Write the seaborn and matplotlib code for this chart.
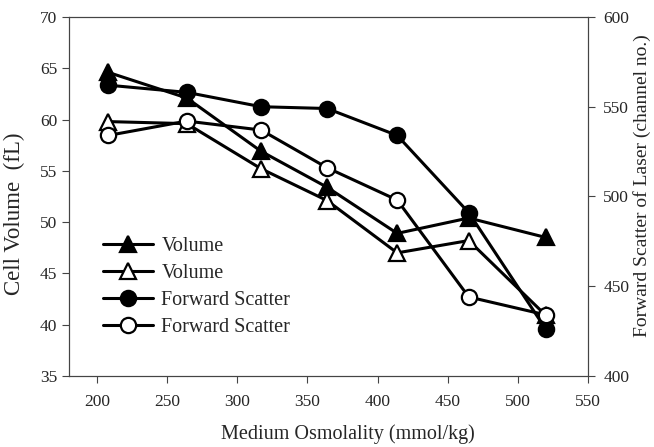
import matplotlib
matplotlib.use("Agg")
import matplotlib.pyplot as plt
import seaborn as sns
import pandas as pd

# data
osmolality = [208, 264, 317, 364, 414, 465, 520]
volume_filled = [64.6, 62.1, 56.9, 53.4, 48.9, 50.4, 48.5]
volume_open = [59.8, 59.6, 55.2, 52.1, 47.0, 48.2, 40.9]
scatter_filled = [562, 558, 550, 549, 534, 491, 426]
scatter_open = [534, 542, 537, 516, 498, 444, 434]

df = pd.DataFrame({'osm': osmolality, 'vf': volume_filled, 'vo': volume_open,
                   'sf': scatter_filled, 'so': scatter_open})

sns.set_style("ticks")
plt.rcParams['font.family'] = ['Liberation Serif', 'DejaVu Serif']

fig = plt.figure(figsize=(6.54, 4.47), dpi=100)
ax = fig.add_axes([0.1055, 0.159, 0.7935, 0.803])
ax2 = ax.twinx()

common = dict(color='black', linewidth=2.2, markersize=11, markeredgecolor='black',
              markeredgewidth=1.6)
sns.lineplot(data=df, x='osm', y='vf', marker='^', ax=ax, label='Volume',
             markerfacecolor='black', **common)
sns.lineplot(data=df, x='osm', y='vo', marker='^', ax=ax, label='Volume',
             markerfacecolor='white', **common)
sns.lineplot(data=df, x='osm', y='sf', marker='o', ax=ax2, label='Forward Scatter',
             markerfacecolor='black', **common)
sns.lineplot(data=df, x='osm', y='so', marker='o', ax=ax2, label='Forward Scatter',
             markerfacecolor='white', **common)

ax.set_xlim(180, 550)
ax.set_ylim(35, 70)
ax2.set_ylim(400, 600)
ax.set_xticks(range(200, 551, 50))
ax.set_yticks(range(35, 71, 5))
ax2.set_yticks(range(400, 601, 50))

ax.set_xlabel('Medium Osmolality (mmol/kg)', fontsize=14.5)
ax.set_ylabel('Cell Volume  (fL)', fontsize=16.5)
ax2.set_ylabel('Forward Scatter of Laser (channel no.)', fontsize=14)
ax.xaxis.set_label_coords(0.538, -0.135)
ax.yaxis.set_label_coords(-0.085, 0.451)
ax2.yaxis.set_label_coords(1.087, 0.531)

for a in (ax, ax2):
    a.tick_params(labelsize=12.5, length=5, width=0.8, color='#444444')
    for s in a.spines.values():
        s.set_color('#444444')
        s.set_linewidth(0.8)
        s.set_visible(True)
ax.tick_params(axis='x', pad=8)
ax2.tick_params(axis='y', pad=6)

h1, l1 = ax.get_legend_handles_labels()
h2, l2 = ax2.get_legend_handles_labels()
if ax2.get_legend():
    ax2.get_legend().remove()
ax.legend(h1 + h2, l1 + l2, loc='lower left', bbox_to_anchor=(0.05, 0.085),
          frameon=False, fontsize=14.5, handlelength=2.5, handletextpad=0.4,
          labelspacing=0.4, borderaxespad=0)

fig.savefig('out.png', dpi=100)
